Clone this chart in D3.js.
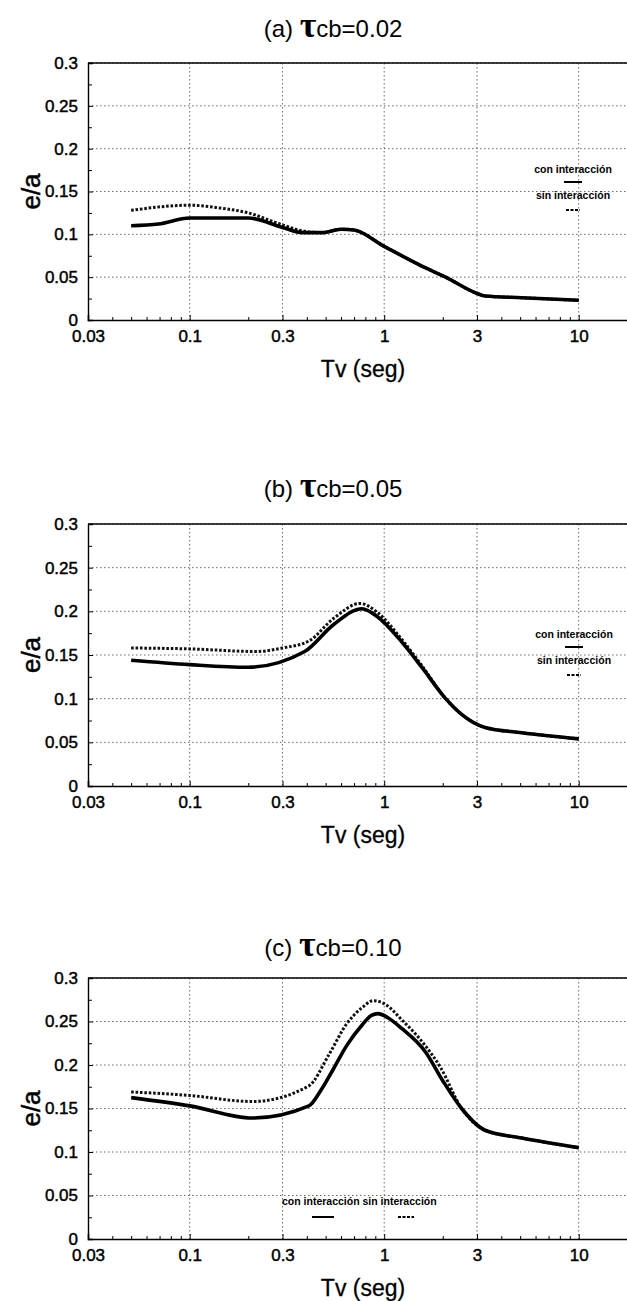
<!DOCTYPE html>
<html><head><meta charset="utf-8">
<script src="https://cdn.jsdelivr.net/npm/d3@7"></script>
<style>html,body{margin:0;padding:0;background:#fff}svg{display:block}</style>
</head><body>
<svg id="chart" width="627" height="1301"></svg>
<script>
// ---- data ----
const xTicks = [0.03, 0.1, 0.3, 1, 3, 10];
const xTickLabels = ["0.03", "0.1", "0.3", "1", "3", "10"];
const yTicks = [0, 0.05, 0.1, 0.15, 0.2, 0.25, 0.3];
const yTickLabels = ["0", "0.05", "0.1", "0.15", "0.2", "0.25", "0.3"];
const panelTitles = [["(a) ", "cb=0.02"], ["(b) ", "cb=0.05"], ["(c) ", "cb=0.10"]];
const seriesNames = ["con interacción", "sin interacción"];

const tvA_con = [0.05, 0.069, 0.1, 0.2, 0.3, 0.38, 0.48, 0.6, 0.7, 1.0, 1.56, 2.07, 3.0, 3.3, 5.1, 10];
const eaA_con = [0.110, 0.112, 0.119, 0.119, 0.108, 0.102, 0.102, 0.106, 0.105, 0.086, 0.063, 0.050, 0.031, 0.028, 0.026, 0.023];
const tvA_sin = [0.05, 0.1, 0.14, 0.2, 0.3, 0.38, 0.48, 0.6, 0.7, 1.0, 1.56, 2.07, 3.0, 3.3, 5.1, 10];
const eaA_sin = [0.128, 0.134, 0.131, 0.125, 0.111, 0.104, 0.102, 0.106, 0.105, 0.086, 0.063, 0.050, 0.031, 0.028, 0.026, 0.023];

const tvB_con = [0.05, 0.1, 0.2, 0.39, 0.55, 0.77, 0.92, 1.23, 1.56, 2.07, 2.5, 3.3, 5.1, 10];
const eaB_con = [0.144, 0.139, 0.136, 0.154, 0.185, 0.203, 0.194, 0.165, 0.136, 0.100, 0.082, 0.067, 0.061, 0.054];
const tvB_sin = [0.05, 0.1, 0.22, 0.3, 0.41, 0.55, 0.75, 0.92, 1.23, 1.56, 2.07, 2.5, 3.3, 5.1, 10];
const eaB_sin = [0.158, 0.157, 0.154, 0.158, 0.166, 0.192, 0.209, 0.199, 0.168, 0.138, 0.100, 0.082, 0.067, 0.061, 0.054];

const tvC_con = [0.05, 0.1, 0.21, 0.41, 0.47, 0.55, 0.64, 0.77, 0.86, 0.93, 1.05, 1.23, 1.63, 2.0, 2.5, 3.3, 5.1, 10];
const eaC_con = [0.1625, 0.153, 0.139, 0.153, 0.170, 0.196, 0.222, 0.246, 0.257, 0.259, 0.254, 0.242, 0.215, 0.182, 0.150, 0.125, 0.116, 0.105];
const tvC_sin = [0.05, 0.1, 0.21, 0.41, 0.52, 0.64, 0.77, 0.88, 1.01, 1.23, 1.63, 1.95, 2.5, 3.3, 5.1, 10];
const eaC_sin = [0.169, 0.165, 0.158, 0.176, 0.212, 0.247, 0.266, 0.274, 0.270, 0.252, 0.222, 0.197, 0.150, 0.125, 0.116, 0.105];

// ---- layout ----
const panels = [
  {top: 63, bottom: 320, titleY: 37, con: [tvA_con, eaA_con], sin: [tvA_sin, eaA_sin], legend: "v", lx: 573, ly: 173},
  {top: 524, bottom: 786, titleY: 497, con: [tvB_con, eaB_con], sin: [tvB_sin, eaB_sin], legend: "v", lx: 574, ly: 638},
  {top: 978, bottom: 1239, titleY: 956, con: [tvC_con, eaC_con], sin: [tvC_sin, eaC_sin], legend: "h", lx: 282, ly: 1205}
];
const left = 88, right = 88 + 194.5 * Math.log10(20 / 0.03);
const svg = d3.select("#chart");
const FONT = "Liberation Sans, Arial, sans-serif";

panels.forEach((p, i) => {
  const x = d3.scaleLog().domain([0.03, 20]).range([left, right]);
  const y = d3.scaleLinear().domain([0, 0.3]).range([p.bottom, p.top]);
  const g = svg.append("g");

  // grid
  g.selectAll(".gy").data(yTicks.slice(1)).join("line")
    .attr("x1", left).attr("x2", right).attr("y1", d => y(d)).attr("y2", d => y(d))
    .attr("stroke", "#444").attr("stroke-width", 0.8).attr("stroke-dasharray", "1.5,2.5");
  g.selectAll(".gx").data(xTicks.slice(1)).join("line")
    .attr("x1", d => x(d)).attr("x2", d => x(d)).attr("y1", p.top).attr("y2", p.bottom)
    .attr("stroke", "#444").attr("stroke-width", 0.8).attr("stroke-dasharray", "1.5,2.5");

  // axes via d3
  const yAxis = d3.axisLeft(y).tickValues(yTicks).tickFormat((d, k) => yTickLabels[k]).tickSize(-5).tickPadding(10);
  const ya = g.append("g").attr("transform", `translate(${left},0)`).call(yAxis);
  ya.select(".domain").attr("stroke", "#000").attr("stroke-width", 1.4);
  ya.selectAll("text").attr("font-family", FONT).attr("font-size", 17).attr("fill", "#000")
    .attr("stroke", "#000").attr("stroke-width", 0.45);
  ya.selectAll(".tick line").attr("stroke", "#000");
  // y minor ticks
  const yMinor = d3.axisLeft(y).tickValues(d3.range(0.025, 0.3, 0.05)).tickSize(-4).tickFormat("");
  g.append("g").attr("transform", `translate(${left},0)`).call(yMinor)
    .call(s => s.select(".domain").remove()).selectAll("line").attr("stroke", "#000");

  const xAxis = d3.axisBottom(x).tickValues(xTicks).tickFormat((d, k) => xTickLabels[k]).tickSize(-5).tickPadding(10);
  const xa = g.append("g").attr("transform", `translate(0,${p.bottom})`).call(xAxis);
  xa.select(".domain").attr("stroke", "#000").attr("stroke-width", 1.6);
  xa.selectAll("text").attr("font-family", FONT).attr("font-size", 17).attr("fill", "#000")
    .attr("stroke", "#000").attr("stroke-width", 0.45);
  xa.selectAll(".tick line").attr("stroke", "#000");
  const minorVals = [];
  [0.01, 0.1, 1, 10].forEach(dec => { for (let m = 2; m <= 9; m++) { const v = m * dec; if (v > 0.03 && v < 20 && m !== 3) minorVals.push(v); } });
  g.append("g").attr("transform", `translate(0,${p.bottom})`)
    .call(d3.axisBottom(x).tickValues(minorVals).tickSize(-3).tickFormat(""))
    .call(s => s.select(".domain").remove()).selectAll("line").attr("stroke", "#000");

  // top frame
  g.append("line").attr("x1", left).attr("x2", right).attr("y1", p.top).attr("y2", p.top)
    .attr("stroke", "#000").attr("stroke-width", 1.6);

  // curves
  const line = d3.line().x(d => x(d[0])).y(d => y(d[1])).curve(d3.curveMonotoneX);
  const sinData = p.sin[0].map((t, k) => [t, p.sin[1][k]]);
  const conData = p.con[0].map((t, k) => [t, p.con[1][k]]);
  g.append("path").datum(sinData).attr("d", line).attr("fill", "none")
    .attr("stroke", "#111").attr("stroke-width", 3).attr("stroke-dasharray", "2.6,1.8");
  g.append("path").datum(conData).attr("d", line).attr("fill", "none")
    .attr("stroke", "#000").attr("stroke-width", 3.6).attr("stroke-linejoin", "round");

  // title
  const t = svg.append("text").attr("x", 333).attr("y", p.titleY).attr("text-anchor", "middle")
    .attr("font-family", FONT).attr("font-size", 24).attr("fill", "#000");
  t.append("tspan").text(panelTitles[i][0]);
  t.append("tspan").text("τ").attr("font-family", "Liberation Serif, serif").attr("font-size", 36).attr("font-weight", "bold");
  t.append("tspan").text(panelTitles[i][1]);

  // axis labels
  svg.append("text").attr("transform", `translate(40,${(p.top + p.bottom) / 2}) rotate(-90)`)
    .attr("text-anchor", "middle").attr("font-family", FONT).attr("font-size", 26).attr("fill", "#000")
    .attr("stroke", "#000").attr("stroke-width", 0.5).text("e/a");
  svg.append("text").attr("x", 363).attr("y", p.bottom + 57).attr("text-anchor", "middle")
    .attr("font-family", FONT).attr("font-size", 23).attr("fill", "#000")
    .attr("stroke", "#000").attr("stroke-width", 0.3).text("Tv (seg)");

  // legend
  const LF = "Liberation Sans Narrow, Arial Narrow, Liberation Sans, sans-serif";
  if (p.legend === "v") {
    svg.append("text").attr("x", p.lx).attr("y", p.ly).attr("text-anchor", "middle")
      .attr("font-family", LF).attr("font-weight", "bold").attr("font-size", 10.5).text(seriesNames[0]);
    svg.append("line").attr("x1", p.lx - 9).attr("x2", p.lx + 9).attr("y1", p.ly + 9).attr("y2", p.ly + 9)
      .attr("stroke", "#000").attr("stroke-width", 2);
    svg.append("text").attr("x", p.lx).attr("y", p.ly + 26).attr("text-anchor", "middle")
      .attr("font-family", LF).attr("font-weight", "bold").attr("font-size", 10.5).text(seriesNames[1]);
    svg.append("line").attr("x1", p.lx - 7).attr("x2", p.lx + 7).attr("y1", p.ly + 37).attr("y2", p.ly + 37)
      .attr("stroke", "#000").attr("stroke-width", 2).attr("stroke-dasharray", "3,1.5");
  } else {
    svg.append("text").attr("x", p.lx).attr("y", p.ly).attr("font-family", LF).attr("font-weight", "bold")
      .attr("font-size", 10.5).text(seriesNames[0] + " " + seriesNames[1]);
    svg.append("line").attr("x1", p.lx + 30).attr("x2", p.lx + 52).attr("y1", p.ly + 12).attr("y2", p.ly + 12)
      .attr("stroke", "#000").attr("stroke-width", 2);
    svg.append("line").attr("x1", p.lx + 116).attr("x2", p.lx + 132).attr("y1", p.ly + 12).attr("y2", p.ly + 12)
      .attr("stroke", "#000").attr("stroke-width", 2).attr("stroke-dasharray", "3,1.5");
  }
});
</script>
</body></html>
